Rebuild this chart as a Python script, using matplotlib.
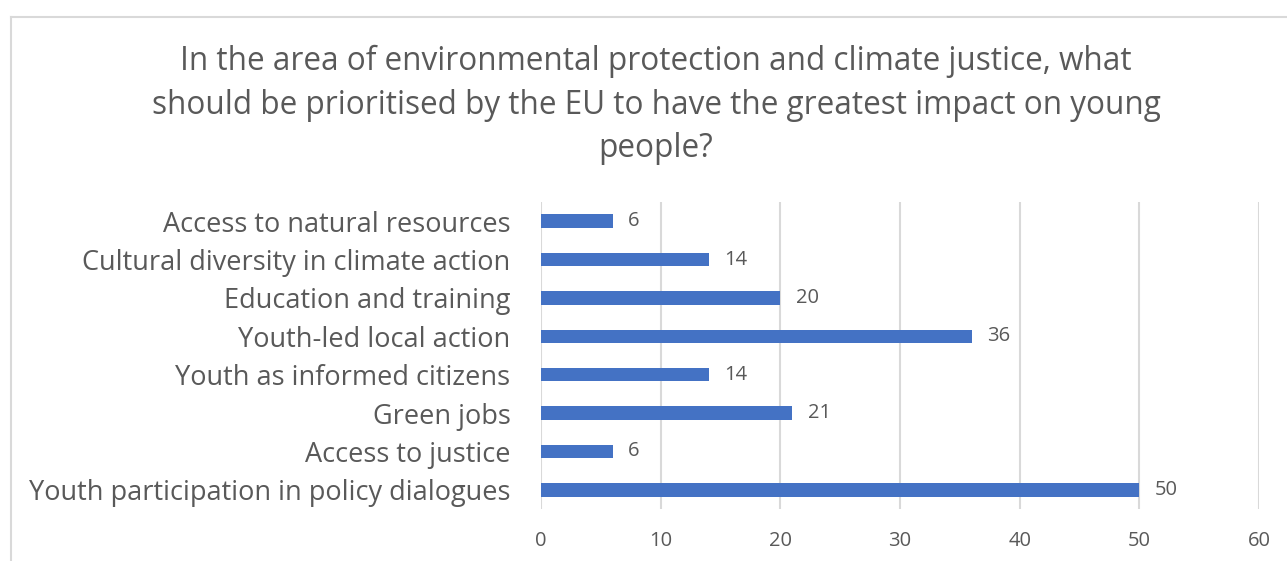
import matplotlib
matplotlib.use("Agg")
import matplotlib.pyplot as plt
from matplotlib.lines import Line2D

# survey answers, listed bottom to top as they appear on the axis
categories = [
    "Youth participation in policy dialogues",
    "Access to justice",
    "Green jobs",
    "Youth as informed citizens",
    "Youth-led local action",
    "Education and training",
    "Cultural diversity in climate action",
    "Access to natural resources",
]
counts = [50, 6, 21, 14, 36, 20, 14, 6]
xticks = [0, 10, 20, 30, 40, 50, 60]

title = ("In the area of environmental protection and climate justice, what\n"
         "should be prioritised by the EU to have the greatest impact on young\n"
         "people?")

plt.rcParams['font.family'] = ['Open Sans', 'DejaVu Sans']
txt = '#595959'
bar_col = '#4472C4'
grid_col = '#d9d9d9'

fig = plt.figure(figsize=(12.87, 5.61), dpi=100)
ax = fig.add_axes([541/1287, 1 - 509/561, (1259 - 541)/1287, (509 - 202)/561])

ypos = list(range(len(categories)))
ax.barh(ypos, counts, height=0.35, color=bar_col, zorder=3)
for y, v in zip(ypos, counts):
    ax.text(v + 1.3, y, str(v), va='center', ha='left', fontsize=14.5, color=txt)

ax.set_xlim(0, 60)
ax.set_ylim(-0.5, len(categories) - 0.5)
ax.set_xticks(xticks)
ax.set_xticklabels([str(t) for t in xticks], fontsize=14.5, color=txt)
ax.set_yticks(ypos)
ax.set_yticklabels(categories, fontsize=19.5, color=txt)
ax.tick_params(axis='both', length=0)
ax.tick_params(axis='x', pad=15.5)
ax.tick_params(axis='y', pad=22)
ax.xaxis.grid(True, color=grid_col, linewidth=1.5, zorder=0)
for s in ax.spines.values():
    s.set_visible(False)

fig.text(656/1287, 1 - 105/561, title, ha='center', va='center',
         fontsize=22.7, color=txt, linespacing=1.42)

# chart area border, only left and top edges are in frame
fig.add_artist(Line2D([11/1287, 11/1287], [0, 1 - 17/561], color=grid_col, lw=1.5))
fig.add_artist(Line2D([11/1287, 1], [1 - 17/561, 1 - 17/561], color=grid_col, lw=1.5))

fig.savefig("out.png", dpi=100)
